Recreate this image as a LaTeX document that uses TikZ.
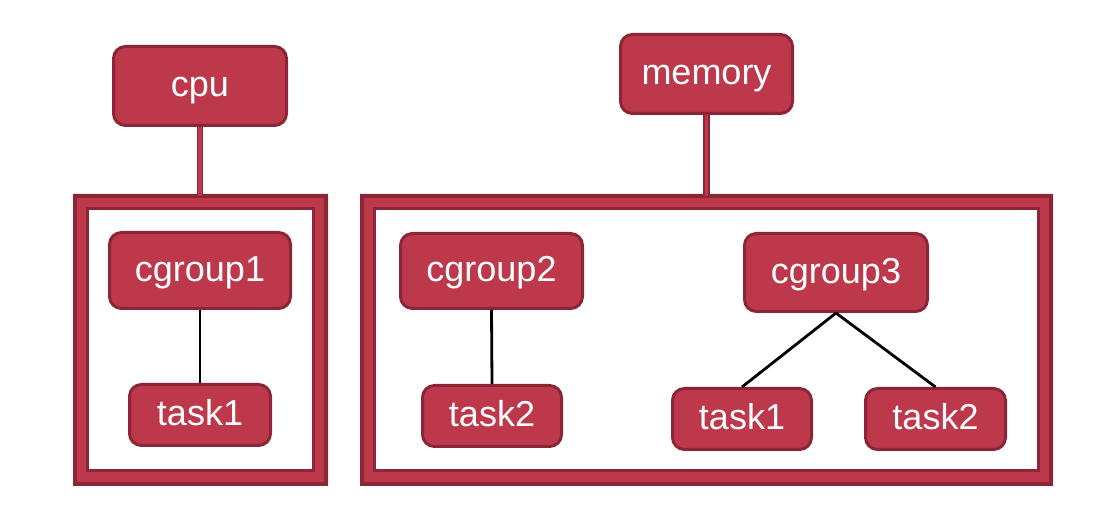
\documentclass[tikz,border=0pt]{standalone}
\usepackage{fontspec}
\setmainfont{Liberation Sans}
\definecolor{boxred}{HTML}{BE384B}
\definecolor{darkred}{HTML}{8C2535}
\tikzset{
  x=1pt,y=-1pt,
  nodebox/.style={draw=darkred, fill=boxred, line width=3pt, rounded corners=12pt,
    text=white, font=\fontsize{36}{36}\selectfont, inner sep=0pt,
    text height=22pt, text depth=0pt},
  tasklink/.style={black, line width=2.8pt},
  redlink/.style={line width=6.5pt, darkred},
  redlinkin/.style={line width=3.5pt, boxred},
  frameband/.style={fill=boxred, even odd rule},
  frameedge/.style={draw=darkred},
}
\begin{document}
\begin{tikzpicture}
\useasboundingbox[fill=white] (0,0) rectangle (1101,518);

% frames
\fill[frameband] (73,194) rectangle (328,486) (86,207) rectangle (315,472);
\draw[frameedge, line width=4pt] (75,196) rectangle (326,484);
\draw[frameedge, line width=3pt] (87.5,208.5) rectangle (313.5,470.5);

\fill[frameband] (360,194) rectangle (1053,486) (373,207) rectangle (1040,472);
\draw[frameedge, line width=4pt] (362,196) rectangle (1051,484);
\draw[frameedge, line width=3pt] (374.5,208.5) rectangle (1038.5,470.5);

\coordinate (cpuframe) at (200,196);
\coordinate (memframe) at (706.5,196);

% nodes
\node[nodebox, minimum width=173pt, minimum height=79pt] (cpu) at (200,86) {cpu};
\node[nodebox, minimum width=172pt, minimum height=79pt] (memory) at (706.5,74) {memory};
\node[nodebox, minimum width=181pt, minimum height=76pt] (cg1) at (200,270.5) {cgroup1};
\node[nodebox, minimum width=141pt, minimum height=61pt] (t1) at (200,415) {task1};
\node[nodebox, minimum width=182pt, minimum height=75pt] (cg2) at (491.5,271) {cgroup2};
\node[nodebox, minimum width=139pt, minimum height=61pt] (t2) at (492,416) {task2};
\node[nodebox, minimum width=183pt, minimum height=78pt] (cg3) at (836,272.5) {cgroup3};
\node[nodebox, minimum width=139pt, minimum height=61pt] (t3) at (742,419) {task1};
\node[nodebox, minimum width=140pt, minimum height=61pt] (t4) at (935.5,419) {task2};

% red connectors
\draw[redlink] (cpu.south) -- (cpuframe);
\draw[redlinkin] (cpu.south) -- (cpuframe);
\draw[redlink] (memory.south) -- (memframe);
\draw[redlinkin] (memory.south) -- (memframe);

% black links
\draw[tasklink] (cg1.south) -- (t1.north);
\draw[tasklink] (cg2.south) -- (t2.north);
\draw[tasklink] (cg3.south) -- (t3.north);
\draw[tasklink] (cg3.south) -- (t4.north);
\end{tikzpicture}
\end{document}
